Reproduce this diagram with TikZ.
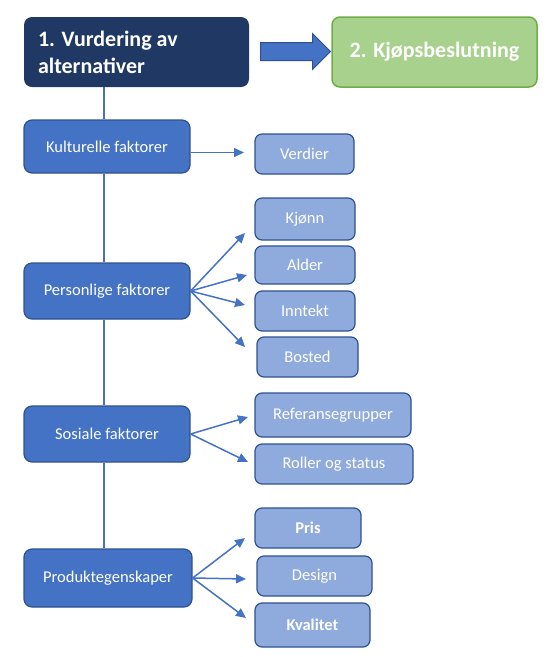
\documentclass[tikz,border=0pt]{standalone}
\usepackage{fontspec}
\setmainfont{Carlito}
\usetikzlibrary{shapes,arrows,arrows.meta,positioning,calc}
\definecolor{navyblue}{HTML}{203864}
\definecolor{midblue}{HTML}{4472C4}
\definecolor{edgeblue}{HTML}{2F528F}
\definecolor{lightblue}{HTML}{8FAADC}
\definecolor{lightgreen}{HTML}{A9D18E}
\definecolor{edgegreen}{HTML}{70AD47}

\begin{document}
\begin{tikzpicture}[x=1pt,y=-1pt,
  stagebox/.style={rounded corners=8pt,inner sep=0pt,text=white,font=\fontsize{22}{27}\selectfont\bfseries,minimum height=70pt},
  factorbox/.style={draw=edgeblue,line width=1.2pt,fill=midblue,rounded corners=8pt,inner sep=0pt,text=white,font=\fontsize{16.5}{19}\selectfont,minimum width=166pt,minimum height=55pt},
  itembox/.style={draw=edgeblue,line width=1.2pt,fill=lightblue,rounded corners=7pt,inner sep=0pt,text=white,font=\fontsize{16.5}{19}\selectfont,minimum height=40pt},
  conn/.style={draw=midblue,line width=1.5pt,-{Triangle[length=10pt,width=9pt]}}]

\useasboundingbox (0,0) rectangle (549,657);

% stages
\node[stagebox,fill=navyblue,minimum width=225pt,text width=197pt,align=flush left] (vurd) at (136.5,52) {1. Vurdering av\\alternativer};
\node[stagebox,fill=lightgreen,draw=edgegreen,line width=1.5pt,minimum width=205pt] (kjop) at (434.5,52) {2. Kjøpsbeslutning};
\node[single arrow,fill=midblue,draw=edgeblue,line width=1pt,inner sep=8.5pt,minimum height=70pt,single arrow head extend=9pt] (pil) at (291,51.5) {};

% factors
\node[factorbox,minimum height=53pt] (kult) at (107,146.5) {Kulturelle faktorer};
\node[factorbox,minimum height=56pt] (pers) at (107,291) {Personlige faktorer};
\node[factorbox,minimum height=56pt] (sos) at (107,434) {Sosiale faktorer};
\node[factorbox,minimum width=168pt,minimum height=58pt] (prod) at (108,578) {Produktegenskaper};

\draw[midblue,line width=1.5pt] ([xshift=-3pt]vurd.south -| kult.north) -- ([xshift=-3pt]kult.north)
  ([xshift=-3pt]kult.south) -- ([xshift=-3pt]pers.north)
  ([xshift=-3pt]pers.south) -- ([xshift=-3pt]sos.north)
  ([xshift=-3pt]sos.south) -- ([xshift=-4pt]prod.north);

% items
\node[itembox,minimum width=99pt] (verdier) at (304.5,154) {Verdier};
\node[itembox,minimum width=100pt,minimum height=42pt] (kjonn) at (305,219) {Kjønn};
\node[itembox,minimum width=100pt,minimum height=38pt] (alder) at (305,265) {Alder};
\node[itembox,minimum width=100pt] (inntekt) at (305,311) {Inntekt};
\node[itembox,minimum width=101pt] (bosted) at (307.5,357) {Bosted};
\node[itembox,minimum width=156pt,minimum height=44pt] (refgr) at (333,415) {Referansegrupper};
\node[itembox,minimum width=158pt] (roller) at (334,464) {Roller og status};
\node[itembox,minimum width=106pt,font=\fontsize{16.5}{19}\selectfont\bfseries] (pris) at (308,528) {Pris};
\node[itembox,minimum width=115pt] (design) at (314.5,576) {Design};
\node[itembox,minimum width=115pt,minimum height=44pt,font=\fontsize{16.5}{19}\selectfont\bfseries] (kval) at (312.5,625) {Kvalitet};

% arrow ends
\coordinate (e1) at (244,152.5);
\coordinate (e2) at (245,233);
\coordinate (e3) at (247,275);
\coordinate (e4) at (245,305);
\coordinate (e5) at (245,347);
\coordinate (e6) at (248,417);
\coordinate (e7) at (248,462);
\coordinate (e8) at (245,538);
\coordinate (e9) at (246,579);
\coordinate (e10) at (246,618);

\draw[conn] (kult.east |- e1) -- (e1);
\foreach \e in {e2,e3,e4,e5} \draw[conn] (pers.east) -- (\e);
\foreach \e in {e6,e7} \draw[conn] (sos.east) -- (\e);
\foreach \e in {e8,e9,e10} \draw[conn] (prod.east) -- (\e);
\end{tikzpicture}
\end{document}
